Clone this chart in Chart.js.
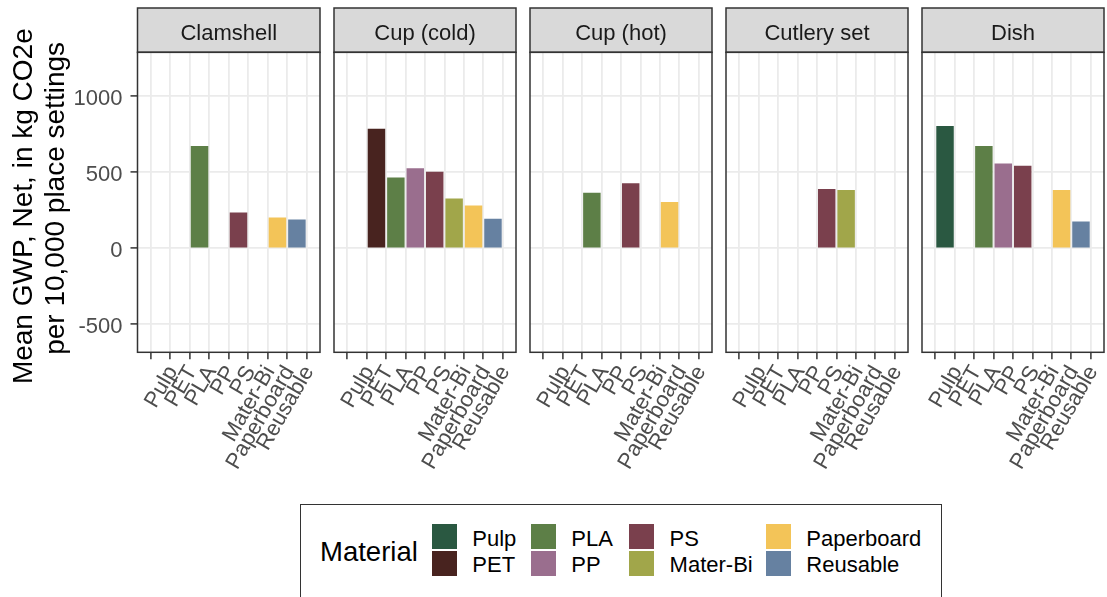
<!DOCTYPE html>
<html>
<head>
<meta charset="utf-8">
<script src="https://cdn.jsdelivr.net/npm/chart.js@4.4.1/dist/chart.umd.min.js"></script>
<style>
  html, body { margin:0; padding:0; background:#fff; overflow:hidden; width:1107px; height:597px; position:relative;
    font-family:"Liberation Sans", Arial, sans-serif; }
  canvas { position:absolute; top:0; }
  #legendBox { position:absolute; left:300px; top:504px; width:642px; height:130px; border:1.3px solid #333; box-sizing:border-box; }
  .lg-title { position:absolute; left:320px; top:532px; height:40px; line-height:40px; font-size:27.5px; color:#000; white-space:nowrap; }
  .lg-key { position:absolute; width:24.7px; height:24.7px; }
  .lg-text { position:absolute; height:26px; line-height:26px; font-size:22px; color:#000; white-space:nowrap; }
</style>
</head>
<body>
<div id="legendBox"></div>
<div class="lg-title">Material</div>
<div id="legendItems"></div>
<script>
// ---- data ----
const materials = ['Pulp', 'PET', 'PLA', 'PP', 'PS', 'Mater-Bi', 'Paperboard', 'Reusable'];
const materialColors = ['#2a5841', '#48231f', '#5d7f47', '#9a6e8e', '#7a404d', '#a1a64a', '#f3c458', '#6681a1'];
const facets = ['Clamshell', 'Cup (cold)', 'Cup (hot)', 'Cutlery set', 'Dish'];
const clamshell  = [null, null, 673, null, 235, null, 202, 189];
const cupCold    = [null, 787, 465, 526, 504, 327, 281, 195];
const cupHot     = [null, null, 366, null, 428, null, 305, null];
const cutlerySet = [null, null, null, null, 390, 384, null, null];
const dish       = [805, null, 673, 557, 543, null, 384, 176];
const yTicks = [-500, 0, 500, 1000];
const yMin = -684, yMax = 1289;
const yTitle = ['Mean GWP, Net, in kg CO2e ', ' per 10,000 place settings'];
const legendTitle = 'Material';

const facetValues = [clamshell, cupCold, cupHot, cutlerySet, dish];

// ---- layout ----
const W = 1107, H = 597;
const STRIP_TOP = 8, PLOT_TOP = 52.3, PLOT_BOTTOM = 352.3;
const PANEL_W = 182.5, FIRST_LEFT = 137.5, PITCH = 196;
const FONT = '"Liberation Sans", Arial, sans-serif';

const facetPlugin = {
  id: 'facetDeco',
  beforeDraw(chart) {
    const { ctx, chartArea: a } = chart;
    ctx.save();
    ctx.fillStyle = '#d9d9d9';
    ctx.fillRect(a.left, STRIP_TOP, a.right - a.left, a.top - STRIP_TOP);
    ctx.restore();
  },
  afterDraw(chart) {
    const { ctx, chartArea: a } = chart;
    ctx.save();
    ctx.strokeStyle = '#333333';
    ctx.lineWidth = 1.5;
    ctx.strokeRect(a.left, a.top, a.right - a.left, a.bottom - a.top);
    ctx.strokeRect(a.left, STRIP_TOP, a.right - a.left, a.top - STRIP_TOP);
    ctx.restore();
  }
};

facets.forEach((name, i) => {
  const first = i === 0;
  const panelLeft = FIRST_LEFT + i * PITCH;
  const padL = first ? 0 : 60;
  const padR = 40;
  const canvasLeft = panelLeft - (first ? FIRST_LEFT : padL);
  const cw = (first ? FIRST_LEFT : padL) + PANEL_W + padR;
  const cv = document.createElement('canvas');
  cv.width = cw; cv.height = H;
  cv.style.left = canvasLeft + 'px';
  cv.style.width = cw + 'px'; cv.style.height = H + 'px';
  document.body.appendChild(cv);

  const vals = facetValues[i];
  new Chart(cv, {
    type: 'bar',
    data: {
      datasets: [{
        data: vals.map((v, k) => ({ x: k, y: v })),
        backgroundColor: materialColors,
        borderWidth: 0,
        barPercentage: 0.9,
        categoryPercentage: 1
      }]
    },
    options: {
      responsive: false,
      animation: false,
      devicePixelRatio: 1,
      layout: { padding: { left: padL, right: padR, top: STRIP_TOP, bottom: 0 } },
      plugins: {
        legend: { display: false },
        tooltip: { enabled: false },
        title: {
          display: true, text: name, fullSize: false,
          color: '#1a1a1a',
          font: { family: FONT, size: 22, weight: 'normal', lineHeight: 1.2 },
          padding: { top: 12.7, bottom: 5.2 }
        }
      },
      scales: {
        x: {
          type: 'linear',
          min: -0.6, max: 7.6,
          bounds: 'data',
          afterBuildTicks: s => { s.ticks = materials.map((_, k) => ({ value: k })); },
          afterFit: s => { s.height = H - PLOT_BOTTOM; },
          border: { display: false },
          grid: { color: '#ebebeb', lineWidth: 1.8, tickColor: '#333333', tickWidth: 1.5, tickLength: 7, drawTicks: true },
          ticks: {
            autoSkip: false, minRotation: 60, maxRotation: 60, padding: 2, labelOffset: 12,
            color: '#4d4d4d', font: { family: FONT, size: 22 },
            callback: v => materials[v]
          }
        },
        y: {
          min: yMin, max: yMax,
          afterBuildTicks: s => { s.ticks = yTicks.map(v => ({ value: v })); },
          afterFit: s => { s.width = first ? FIRST_LEFT : 0; },
          border: { display: false },
          grid: { color: '#ebebeb', lineWidth: 1.8, tickColor: '#333333', tickWidth: 1.5, tickLength: 7, drawTicks: first },
          ticks: {
            display: first, padding: 8, labelOffset: 2.5,
            color: '#4d4d4d', font: { family: FONT, size: 22 },
            callback: v => String(v)
          },
          title: first ? {
            display: true, text: yTitle, color: '#000',
            font: { family: FONT, size: 28, lineHeight: 1.13 },
            padding: { top: 8.7, bottom: 0 }
          } : { display: false }
        }
      }
    },
    plugins: [facetPlugin]
  });
});

// ---- legend (HTML) ----
const keyX = [432, 432, 531, 531, 629.3, 629.3, 766, 766];
const keyY = [524.3, 551, 524.3, 551, 524.3, 551, 524.3, 551];
const textCenterY = [539.2, 565.2];
const box = document.getElementById('legendItems');
materials.forEach((m, k) => {
  const key = document.createElement('div');
  key.className = 'lg-key';
  key.style.left = keyX[k] + 'px';
  key.style.top = keyY[k] + 'px';
  key.style.background = materialColors[k];
  box.appendChild(key);
  const t = document.createElement('div');
  t.className = 'lg-text';
  t.textContent = m;
  t.style.left = (keyX[k] + 40.3) + 'px';
  t.style.top = (textCenterY[k % 2] - 13) + 'px';
  box.appendChild(t);
});
document.querySelector('.lg-title').textContent = legendTitle;
</script>
</body>
</html>
